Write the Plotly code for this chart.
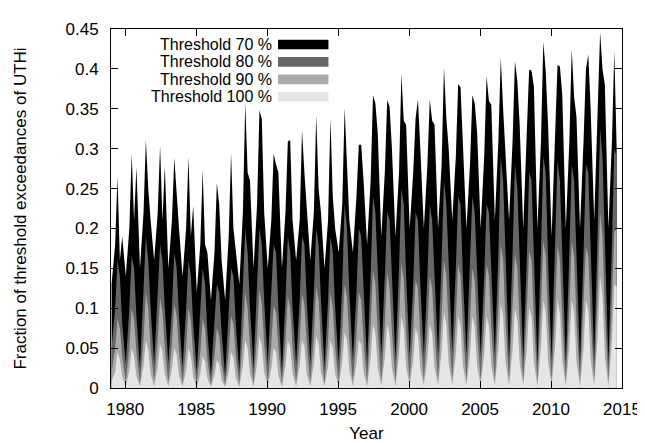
import plotly.graph_objects as go

years = list(range(1979, 2015))
# month positions (fraction of year) of the sampled points: Jan, Apr, Jun, Aug, Oct
month_pos = [0.5 / 12, 3.5 / 12, 5.5 / 12, 7.5 / 12, 9.5 / 12]

t70 = [
    [0.13, 0.18, 0.265, 0.16, 0.19], [0.14, 0.2, 0.294, 0.21, 0.277], [0.15, 0.22, 0.311, 0.25, 0.21],
    [0.16, 0.22, 0.304, 0.21, 0.278], [0.15, 0.21, 0.289, 0.24, 0.2], [0.14, 0.2, 0.29, 0.19, 0.228],
    [0.12, 0.18, 0.273, 0.18, 0.17], [0.11, 0.17, 0.257, 0.23, 0.16], [0.11, 0.19, 0.295, 0.2, 0.17],
    [0.13, 0.22, 0.358, 0.27, 0.26], [0.15, 0.23, 0.348, 0.337, 0.22], [0.15, 0.21, 0.294, 0.28, 0.27],
    [0.15, 0.22, 0.309, 0.311, 0.21], [0.16, 0.21, 0.323, 0.27, 0.22], [0.16, 0.22, 0.342, 0.25, 0.22],
    [0.15, 0.21, 0.338, 0.24, 0.2], [0.17, 0.23, 0.351, 0.28, 0.21], [0.17, 0.24, 0.305, 0.305, 0.26],
    [0.18, 0.26, 0.367, 0.357, 0.32], [0.19, 0.27, 0.361, 0.353, 0.3], [0.19, 0.27, 0.394, 0.335, 0.33],
    [0.2, 0.27, 0.338, 0.362, 0.3], [0.2, 0.28, 0.362, 0.335, 0.33], [0.2, 0.28, 0.402, 0.338, 0.3],
    [0.21, 0.29, 0.381, 0.377, 0.3], [0.2, 0.28, 0.367, 0.357, 0.321], [0.2, 0.29, 0.391, 0.36, 0.355],
    [0.21, 0.31, 0.414, 0.35, 0.3], [0.21, 0.31, 0.41, 0.385, 0.33], [0.2, 0.31, 0.399, 0.398, 0.378],
    [0.2, 0.31, 0.434, 0.397, 0.33], [0.19, 0.32, 0.405, 0.403, 0.368], [0.2, 0.31, 0.425, 0.365, 0.34],
    [0.2, 0.31, 0.4, 0.418, 0.35], [0.21, 0.35, 0.446, 0.4, 0.38], [0.2, 0.31, 0.422, 0.3],
]

t80 = [
    [0.05, 0.1, 0.16, 0.14, 0.08], [0.03, 0.1, 0.165, 0.15, 0.09], [0.025, 0.12, 0.19, 0.16, 0.1],
    [0.03, 0.11, 0.18, 0.16, 0.1], [0.03, 0.1, 0.17, 0.15, 0.09], [0.025, 0.1, 0.16, 0.14, 0.08],
    [0.02, 0.09, 0.15, 0.13, 0.07], [0.015, 0.08, 0.13, 0.12, 0.07], [0.015, 0.09, 0.15, 0.14, 0.08],
    [0.02, 0.12, 0.2, 0.17, 0.1], [0.025, 0.12, 0.2, 0.18, 0.11], [0.03, 0.11, 0.18, 0.17, 0.1],
    [0.02, 0.11, 0.19, 0.17, 0.1], [0.03, 0.11, 0.19, 0.18, 0.11], [0.03, 0.12, 0.2, 0.18, 0.11],
    [0.025, 0.11, 0.19, 0.17, 0.1], [0.03, 0.13, 0.23, 0.2, 0.12], [0.035, 0.12, 0.2, 0.19, 0.12],
    [0.03, 0.14, 0.24, 0.22, 0.14], [0.04, 0.14, 0.22, 0.21, 0.13], [0.035, 0.15, 0.25, 0.23, 0.14],
    [0.04, 0.13, 0.22, 0.21, 0.13], [0.04, 0.14, 0.23, 0.21, 0.14], [0.04, 0.16, 0.26, 0.23, 0.15],
    [0.045, 0.15, 0.24, 0.23, 0.14], [0.04, 0.15, 0.24, 0.22, 0.14], [0.04, 0.14, 0.23, 0.22, 0.14],
    [0.04, 0.17, 0.29, 0.26, 0.16], [0.035, 0.17, 0.28, 0.25, 0.16], [0.035, 0.16, 0.27, 0.26, 0.16],
    [0.03, 0.17, 0.29, 0.27, 0.16], [0.035, 0.17, 0.285, 0.26, 0.16], [0.03, 0.17, 0.28, 0.26, 0.16],
    [0.03, 0.17, 0.28, 0.27, 0.17], [0.035, 0.2, 0.325, 0.29, 0.18], [0.03, 0.18, 0.3, 0.29],
]

t90 = [
    [0.02, 0.05, 0.087, 0.075, 0.04], [0.008, 0.05, 0.1, 0.085, 0.045], [0.006, 0.06, 0.12, 0.1, 0.05],
    [0.008, 0.06, 0.113, 0.095, 0.05], [0.007, 0.055, 0.105, 0.09, 0.045], [0.006, 0.05, 0.1, 0.085, 0.04],
    [0.005, 0.045, 0.087, 0.075, 0.035], [0.004, 0.04, 0.075, 0.065, 0.03], [0.004, 0.045, 0.09, 0.08, 0.04],
    [0.005, 0.065, 0.12, 0.1, 0.05], [0.006, 0.065, 0.123, 0.105, 0.055], [0.007, 0.055, 0.103, 0.095, 0.05],
    [0.005, 0.06, 0.115, 0.1, 0.05], [0.007, 0.06, 0.118, 0.105, 0.055], [0.007, 0.065, 0.127, 0.11, 0.055],
    [0.006, 0.06, 0.12, 0.1, 0.05], [0.007, 0.07, 0.13, 0.115, 0.06], [0.008, 0.065, 0.12, 0.11, 0.06],
    [0.007, 0.08, 0.148, 0.13, 0.07], [0.009, 0.08, 0.145, 0.125, 0.07], [0.008, 0.085, 0.156, 0.135, 0.07],
    [0.01, 0.075, 0.135, 0.125, 0.065], [0.01, 0.075, 0.14, 0.125, 0.07], [0.01, 0.09, 0.16, 0.14, 0.075],
    [0.011, 0.085, 0.155, 0.14, 0.075], [0.01, 0.085, 0.15, 0.135, 0.07], [0.01, 0.085, 0.155, 0.14, 0.075],
    [0.01, 0.1, 0.18, 0.16, 0.085], [0.009, 0.095, 0.168, 0.15, 0.08], [0.009, 0.095, 0.172, 0.16, 0.085],
    [0.008, 0.1, 0.184, 0.165, 0.085], [0.009, 0.1, 0.18, 0.16, 0.085], [0.008, 0.1, 0.184, 0.165, 0.085],
    [0.008, 0.1, 0.176, 0.165, 0.09], [0.009, 0.12, 0.22, 0.19, 0.095], [0.008, 0.11, 0.196, 0.2],
]

t100 = [
    [0.008, 0.02, 0.045, 0.035, 0.015], [0.002, 0.022, 0.05, 0.04, 0.015], [0.002, 0.028, 0.06, 0.048, 0.018],
    [0.002, 0.026, 0.055, 0.045, 0.017], [0.002, 0.024, 0.05, 0.042, 0.015], [0.002, 0.022, 0.05, 0.04, 0.014],
    [0.001, 0.018, 0.04, 0.033, 0.012], [0.001, 0.016, 0.035, 0.03, 0.01], [0.001, 0.02, 0.045, 0.038, 0.013],
    [0.001, 0.028, 0.06, 0.05, 0.018], [0.002, 0.03, 0.065, 0.053, 0.02], [0.002, 0.024, 0.05, 0.045, 0.016],
    [0.001, 0.028, 0.06, 0.05, 0.018], [0.002, 0.028, 0.06, 0.052, 0.018], [0.002, 0.03, 0.065, 0.055, 0.02],
    [0.002, 0.028, 0.06, 0.05, 0.018], [0.002, 0.033, 0.07, 0.06, 0.022], [0.002, 0.03, 0.06, 0.055, 0.02],
    [0.002, 0.038, 0.08, 0.068, 0.025], [0.003, 0.038, 0.08, 0.066, 0.025], [0.002, 0.042, 0.09, 0.075, 0.027],
    [0.003, 0.035, 0.075, 0.066, 0.024], [0.003, 0.037, 0.08, 0.068, 0.026], [0.003, 0.045, 0.095, 0.08, 0.03],
    [0.003, 0.042, 0.09, 0.078, 0.028], [0.003, 0.042, 0.09, 0.076, 0.027], [0.003, 0.042, 0.09, 0.078, 0.028],
    [0.003, 0.05, 0.105, 0.09, 0.033], [0.003, 0.048, 0.1, 0.086, 0.031], [0.003, 0.048, 0.1, 0.09, 0.033],
    [0.002, 0.052, 0.11, 0.095, 0.034], [0.003, 0.052, 0.11, 0.093, 0.034], [0.002, 0.052, 0.11, 0.095, 0.034],
    [0.002, 0.05, 0.11, 0.097, 0.036], [0.003, 0.065, 0.14, 0.115, 0.04], [0.002, 0.06, 0.13, 0.127],
]

series_names = ["Threshold 70 %", "Threshold 80 %", "Threshold 90 %", "Threshold 100 %"]
series_colors = ["#000000", "#666666", "#aaaaaa", "#e5e5e5"]
x_ticks = [1980, 1985, 1990, 1995, 2000, 2005, 2010, 2015]


def flatten(rows):
    xs, ys = [], []
    for yr, row in zip(years, rows):
        for i, v in enumerate(row):
            xs.append(yr + month_pos[i])
            ys.append(v)
    return xs, ys


FONT = "Liberation Sans, Arial, Helvetica, sans-serif"
FS = 17
FS_KEY = 16
fig = go.Figure()
for rows, name, col in zip([t70, t80, t90, t100], series_names, series_colors):
    xs, ys = flatten(rows)
    fig.add_trace(go.Scatter(x=xs, y=ys, mode="lines", fill="tozeroy",
                             fillcolor=col, line=dict(width=0, color=col),
                             name=name, showlegend=False, hoverinfo="skip"))

# gnuplot-style key: right-aligned text with sample box to its right
L, R, T, B = 103, 620, 21, 392
W, H = R - L, B - T
row_y = [37, 55, 73, 91]
for name, col, py in zip(series_names, series_colors, row_y):
    fig.add_annotation(x=(268 - L) / W, y=(B - py) / H, xref="paper", yref="paper",
                       text=name, showarrow=False, xanchor="right", yanchor="middle",
                       font=dict(size=FS_KEY, color="black", family=FONT))
    fig.add_shape(type="rect", xref="paper", yref="paper",
                  x0=(272 - L) / W, x1=(323 - L) / W,
                  y0=(B - py - 5) / H, y1=(B - py + 5) / H,
                  fillcolor=col, line=dict(width=0))

axis_common = dict(showline=True, linecolor="black", linewidth=1, mirror="ticks",
                   ticks="inside", ticklen=7, tickcolor="black", tickwidth=1,
                   showgrid=False, zeroline=False,
                   tickfont=dict(size=FS, color="black", family=FONT))
fig.update_xaxes(range=[1979, 2015], tickvals=x_ticks, ticklabelstandoff=6,
                 title=dict(text="Year", font=dict(size=FS, color="black", family=FONT), standoff=8),
                 **axis_common)
fig.update_yaxes(range=[0, 0.45], dtick=0.05, tick0=0, ticklabelstandoff=8,
                 title=dict(text="Fraction of threshold exceedances of UTHi",
                            font=dict(size=FS, color="black", family=FONT), standoff=34),
                 **axis_common)
fig.update_layout(width=645, height=443, margin=dict(l=L, r=645 - R, t=T, b=443 - B),
                  plot_bgcolor="white", paper_bgcolor="white",
                  font=dict(family=FONT, color="black"))
fig.write_html("out.html")
